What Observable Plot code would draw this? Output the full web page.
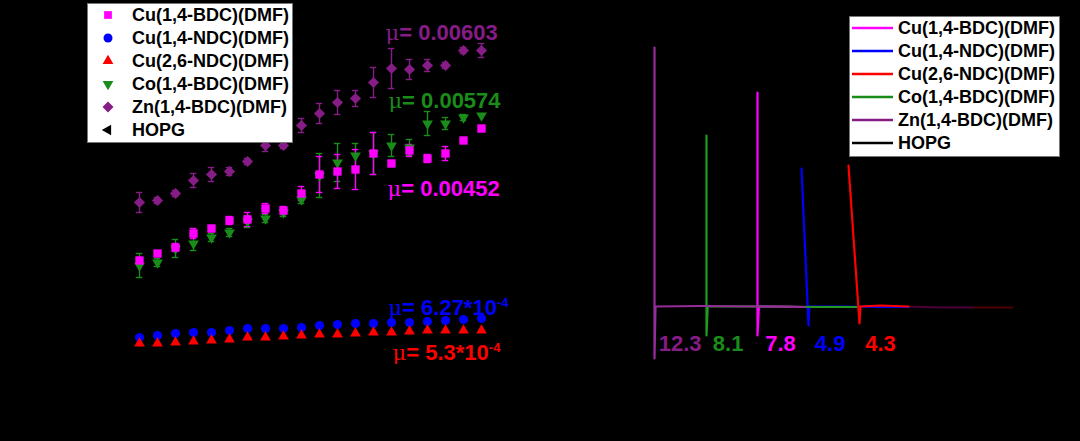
<!DOCTYPE html>
<html><head><meta charset="utf-8">
<script src="https://cdn.jsdelivr.net/npm/d3@7"></script>
<script src="https://cdn.jsdelivr.net/npm/@observablehq/plot@0.6"></script>
<style>
html,body{margin:0;padding:0;background:#000;}
#wrap{position:relative;width:1080px;height:441px;background:#000;overflow:hidden;font-family:"Liberation Sans",Arial,sans-serif;}
#left,#right{position:absolute;top:0;width:540px;height:441px;}
#left{left:0}#right{left:540px}
.legend{position:absolute;display:block;}
</style></head><body>
<div id="wrap"><div id="left"></div><div id="right"></div></div>
<script>
// ---------- DATA (left panel: friction vs load step) ----------
const loadStep = [1,2,3,4,5,6,7,8,9,10,11,12,13,14,15,16,17,18,19,20];
const cuBDC   = [14.0,14.7,15.3,16.7,17.2,18.0,18.1,19.2,19.0,20.7,22.6,22.9,23.1,24.7,23.7,25.0,24.2,24.7,26.0,27.2];
const cuBDCerr= [0.3,0.2,0.4,0.5,0.3,0.4,0.7,0.5,0.4,0.7,1.8,1.7,2.0,2.1,0.3,0.6,0.4,0.7,0.2,0.3];
const coBDC   = [13.5,13.8,15.2,15.7,16.3,16.8,17.9,18.2,18.8,20.1,22.5,23.8,24.5,24.7,25.5,25.3,27.7,27.7,28.3,28.5];
const coBDCerr= [1.2,0.4,0.9,0.7,0.4,0.4,0.6,0.4,0.4,0.4,2.2,1.9,1.2,2.1,1.1,0.8,1.2,0.6,0.3,0.2];
const znBDC   = [19.8,20.0,20.7,22.0,22.6,22.9,23.9,25.5,25.5,27.5,28.7,29.8,30.2,31.8,33.2,33.1,33.5,33.5,35.0,35.0];
const znBDCerr= [1.0,0.3,0.3,0.7,0.7,0.4,0.3,0.6,0.3,0.7,1.0,1.2,0.8,1.5,2.0,1.0,0.6,0.3,0.3,0.7];
const cuNDC14 = [6.3,6.5,6.7,6.8,6.8,7.0,7.2,7.2,7.2,7.3,7.5,7.6,7.7,7.7,7.8,7.8,7.9,8.0,8.1,8.2];
const cuNDC26 = [5.7,5.7,5.8,5.9,6.0,6.1,6.3,6.3,6.4,6.5,6.6,6.6,6.7,6.8,6.8,6.9,7.0,7.0,7.0,7.0];

const seriesNames = ["Cu(1,4-BDC)(DMF)","Cu(1,4-NDC)(DMF)","Cu(2,6-NDC)(DMF)","Co(1,4-BDC)(DMF)","Zn(1,4-BDC)(DMF)","HOPG"];
const seriesColors = ["#ff00ff","#0000ff","#ff0000","#1a8c1a","#861c86","#000000"];

// mu annotations (left)
const muLabels = ["μ= 0.00603","μ= 0.00574","μ= 0.00452","μ= 6.27*10^-4","μ= 5.3*10^-4"];
const muColors = ["#861c86","#1a8c1a","#ff00ff","#0000ff","#ff0000"];
const muX = [14.67,14.83,14.78,14.83,15.06];
const muY = [36.8,30.0,21.2,9.3,4.8];

// ---------- DATA (right panel: traces) ----------
const znTraceX = [3.5,3.5,3.75,15,30,41];
const znTraceY = [259,-52,0,0.5,0,-0.5];
const coTraceX = [16.5,16.5,16.8,30,45,54];
const coTraceY = [171,-29,0,0,-0.5,-0.5];
const cuTraceX = [29.25,29.25,29.6,35,41];
const cuTraceY = [214,-29,0,0,-0.5];
const ndc14TraceX = [40.25,42.0,42.2,50,60,67,75,83];
const ndc14TraceY = [138,-19,0,0,-0.5,-0.5,-1,-1];
const ndc26TraceX = [52.0,54.75,55.0,60,67,75,83,93];
const ndc26TraceY = [141,-17,0,1,0,-1,-1,-1];
const peakLabels = ["12.3","8.1","7.8","4.9","4.3"];
const peakColors = ["#861c86","#1a8c1a","#ff00ff","#0000ff","#ff0000"];
const peakLabelX = [9.9,21.9,35.0,47.4,60.0];
const peakLabelY = [-37,-37,-37,-37,-37];
const tailStart = 67;

// ---------- symbols ----------
const triDown = {draw(c, s){const y=Math.sqrt(s/(Math.sqrt(3)*3)); c.moveTo(0,2*y); c.lineTo(-Math.sqrt(3)*y,-y); c.lineTo(Math.sqrt(3)*y,-y); c.closePath();}};
const triLeft = {draw(c, s){const y=Math.sqrt(s/(Math.sqrt(3)*3)); c.moveTo(-2*y,0); c.lineTo(y,-Math.sqrt(3)*y); c.lineTo(y,Math.sqrt(3)*y); c.closePath();}};

const FONT = '"Liberation Sans", Arial, sans-serif';

// ---------- LEFT PLOT ----------
function rows(vals, errs){ return vals.map((v,i)=>({x: loadStep[i], y: v, err: errs ? errs[i] : 0})); }
const leftSeries = [
  {rows: rows(coBDC, coBDCerr), color: seriesColors[3], symbol: triDown, r: 4},
  {rows: rows(cuBDC, cuBDCerr), color: seriesColors[0], symbol: "square", r: 4.7},
  {rows: rows(znBDC, znBDCerr), color: seriesColors[4], symbol: "diamond2", r: 5},
  {rows: rows(cuNDC14), color: seriesColors[1], symbol: "circle", r: 4.6},
  {rows: rows(cuNDC26), color: seriesColors[2], symbol: "triangle", r: 4}
];
const leftMarks = [];
for (const s of leftSeries) {
  const eb = s.rows.filter(d => d.err >= 0.3);
  if (!eb.length) continue;
  leftMarks.push(
    Plot.ruleX(eb, {x:"x", y1: d=>d.y-d.err, y2: d=>d.y+d.err, stroke: s.color, strokeWidth: 1.4}),
    Plot.ruleY(eb, {y: d=>d.y+d.err, x1: d=>d.x-0.18, x2: d=>d.x+0.18, stroke: s.color, strokeWidth: 1.4}),
    Plot.ruleY(eb, {y: d=>d.y-d.err, x1: d=>d.x-0.18, x2: d=>d.x+0.18, stroke: s.color, strokeWidth: 1.4})
  );
}
for (const s of leftSeries) {
  leftMarks.push(Plot.dot(s.rows, {x:"x", y:"y", symbol: s.symbol, r: s.r, fill: s.color, stroke: "none"}));
}
const muData = muLabels.map((t,i)=>({t, x: muX[i], y: muY[i], c: muColors[i]}));
leftMarks.push(Plot.text(muData, {x:"x", y:"y", text:"t", fill: d=>d.c, textAnchor:"start",
  fontSize: 22, fontWeight: "bold", fontFamily: FONT}));

const leftPlot = Plot.plot({
  width: 540, height: 441,
  marginLeft: 139, marginRight: 59, marginTop: 0, marginBottom: 41,
  x: {domain: [1, 20], axis: null},
  y: {domain: [0, 40], axis: null},
  color: {type: "identity"},
  style: {background: "#000", overflow: "visible", fontFamily: FONT},
  marks: leftMarks
});
document.getElementById("left").appendChild(leftPlot);

// rebuild mu labels with normal-weight mu and superscripts
leftPlot.querySelectorAll("text").forEach(t => {
  const s = t.textContent;
  if (!s.startsWith("μ")) return;
  const [base, exp] = s.split("^");
  while (t.firstChild) t.removeChild(t.firstChild);
  const sel = d3.select(t);
  sel.append("tspan").attr("font-weight", "normal").attr("font-family", '"DejaVu Serif", serif').attr("font-size", 21).text(base.slice(0,1));
  sel.append("tspan").text(base.slice(1));
  if (exp) sel.append("tspan").attr("dy", "-0.55em").attr("font-size", 13).text(exp);
});

// ---------- RIGHT PLOT ----------
function trace(xs, ys){ return xs.map((x,i)=>({x, y: ys[i]})); }
const traces = [
  {d: trace(ndc14TraceX, ndc14TraceY), color: seriesColors[1]},
  {d: trace(cuTraceX, cuTraceY), color: seriesColors[0]},
  {d: trace(coTraceX, coTraceY), color: "#229a22"},
  {d: trace(ndc26TraceX, ndc26TraceY), color: seriesColors[2]},
  {d: trace(znTraceX, znTraceY), color: "#962c9a"}
];
const rightMarks = [];
for (const t of traces) {
  rightMarks.push(Plot.line(t.d.filter(p => p.x <= tailStart), {x:"x", y:"y", stroke: t.color, strokeWidth: 2.2}));
  const tail = t.d.filter(p => p.x >= tailStart);
  if (tail.length > 1) rightMarks.push(Plot.line(tail, {x:"x", y:"y", stroke: t.color, strokeWidth: 2, strokeOpacity: 0.3}));
}
const peakData = peakLabels.map((t,i)=>({t, x: peakLabelX[i], y: peakLabelY[i], c: peakColors[i]}));
rightMarks.push(Plot.text(peakData, {x:"x", y:"y", text:"t", fill: d=>d.c, fontSize: 22, fontWeight: "bold", fontFamily: FONT}));

const rightPlot = Plot.plot({
  width: 540, height: 441,
  marginLeft: 100, marginRight: 40, marginTop: 6, marginBottom: 75,
  x: {domain: [0, 100], axis: null},
  y: {domain: [-60, 300], axis: null},
  color: {type: "identity"},
  style: {background: "#000", overflow: "visible", fontFamily: FONT},
  marks: rightMarks
});
document.getElementById("right").appendChild(rightPlot);

// ---------- LEGENDS ----------
const legendSymbols = ["square","circle","triangle",triDown,"diamond2",triLeft];
const d3Sym = {square: d3.symbolSquare, circle: d3.symbolCircle, triangle: d3.symbolTriangle, diamond2: d3.symbolDiamond2};
function legend({left, top, w, h, kind}) {
  const svg = d3.select("#wrap").append("svg").attr("class","legend")
    .style("left", left+"px").style("top", top+"px").attr("width", w).attr("height", h);
  svg.append("rect").attr("x",0.5).attr("y",0.5).attr("width",w-1).attr("height",h-1).attr("fill","#fff").attr("stroke","#777");
  seriesNames.forEach((name, i) => {
    const cy = 12 + i*23;
    if (kind === "symbol") {
      const sym = legendSymbols[i];
      const type = typeof sym === "string" ? d3Sym[sym] : sym;
      const sizes = [60, 64, 50, 50, 78, 50];
      svg.append("path").attr("transform", `translate(21,${cy})`).attr("d", d3.symbol(type, sizes[i])()).attr("fill", seriesColors[i]);
    } else {
      svg.append("line").attr("x1",3).attr("x2",44).attr("y1",cy).attr("y2",cy).attr("stroke", seriesColors[i]).attr("stroke-width",2.5);
    }
    svg.append("text").attr("x", kind === "symbol" ? 45 : 49).attr("y", cy).attr("dy","0.35em")
      .attr("font-family", FONT).attr("font-weight","bold").attr("font-size", 18).attr("fill","#000").text(name);
  });
}
legend({left: 87, top: 3, w: 206, h: 140, kind: "symbol"});
legend({left: 849, top: 16, w: 211, h: 141, kind: "line"});
</script></body></html>
